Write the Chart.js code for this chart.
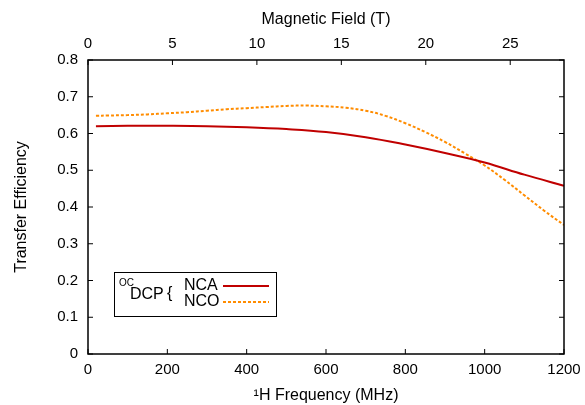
<!DOCTYPE html>
<html>
<head>
<meta charset="utf-8">
<script src="https://cdn.jsdelivr.net/npm/chart.js@4.4.0/dist/chart.umd.min.js"></script>
<style>
  body { margin: 0; background: #fff; }
  canvas { display: block; }
</style>
</head>
<body>
<canvas id="graph" width="585" height="405"></canvas>
<script>
// values
const freqNCA = [20, 100, 200, 300, 400, 500, 600, 700, 800, 900, 1000, 1100, 1200];
const effNCA = [0.620, 0.621, 0.621, 0.620, 0.617, 0.612, 0.604, 0.590, 0.570, 0.547, 0.521, 0.488, 0.458];

const freqNCO = [20, 50, 100, 150, 200, 250, 300, 350, 400, 450, 500, 550, 600, 650, 700, 750, 800, 850, 900, 950, 1000, 1050, 1100, 1150, 1200];
const effNCO = [0.648, 0.649, 0.650, 0.652, 0.655, 0.658, 0.662, 0.666, 0.669, 0.672, 0.675, 0.676, 0.674, 0.670, 0.662, 0.648, 0.628, 0.604, 0.577, 0.546, 0.513, 0.474, 0.432, 0.390, 0.351];

const seriesNames = ["NCA", "NCO"];
const seriesColors = ["#c00000", "#ff8c00"];

const MHZ_PER_TESLA = 42.577;
const freqMax = 1200;

Chart.defaults.font.family = "'Liberation Sans', Arial, sans-serif";
Chart.defaults.font.size = 15;
Chart.defaults.color = "#000";

const toPoints = (xs, ys) => xs.map((x, i) => ({ x: x, y: ys[i] }));

// gnuplot style frame with inward ticks
const framePlugin = {
  id: "frame",
  afterDatasetsDraw(chart) {
    const ctx = chart.ctx;
    const a = chart.chartArea;
    const tl = 5;
    ctx.save();
    ctx.strokeStyle = "#000";
    ctx.lineWidth = 1;
    ctx.beginPath();
    chart.scales.x.ticks.forEach(t => {
      const px = chart.scales.x.getPixelForValue(t.value);
      ctx.moveTo(px, a.bottom);
      ctx.lineTo(px, a.bottom - tl);
    });
    chart.scales.x2.ticks.forEach(t => {
      const px = chart.scales.x2.getPixelForValue(t.value);
      ctx.moveTo(px, a.top);
      ctx.lineTo(px, a.top + tl);
    });
    chart.scales.y.ticks.forEach(t => {
      const py = chart.scales.y.getPixelForValue(t.value);
      ctx.moveTo(a.left, py);
      ctx.lineTo(a.left + tl, py);
      ctx.moveTo(a.right, py);
      ctx.lineTo(a.right - tl, py);
    });
    ctx.stroke();
    ctx.lineWidth = 1.5;
    ctx.strokeRect(a.left, a.top, a.right - a.left, a.bottom - a.top);
    ctx.restore();
  }
};

// key box: OC-DCP { NCA / NCO
const keyPlugin = {
  id: "key",
  afterDraw(chart) {
    const ctx = chart.ctx;
    const fam = "'Liberation Sans', Arial, sans-serif";
    ctx.save();
    ctx.strokeStyle = "#000";
    ctx.lineWidth = 1;
    ctx.strokeRect(114.5, 272.5, 162, 44);
    ctx.fillStyle = "#000";
    ctx.textBaseline = "alphabetic";
    ctx.textAlign = "left";
    ctx.font = "10px " + fam;
    ctx.fillText("OC", 119, 286);
    ctx.font = "16px " + fam;
    ctx.fillText("DCP", 130, 298.5);
    ctx.fillText("{", 167, 298);
    ctx.fillText(seriesNames[0], 184, 290);
    ctx.fillText(seriesNames[1], 184, 306);
    ctx.lineWidth = 2;
    ctx.strokeStyle = seriesColors[0];
    ctx.beginPath();
    ctx.moveTo(223, 286);
    ctx.lineTo(269, 286);
    ctx.stroke();
    ctx.strokeStyle = seriesColors[1];
    ctx.setLineDash([3, 2]);
    ctx.beginPath();
    ctx.moveTo(223, 302);
    ctx.lineTo(269, 302);
    ctx.stroke();
    ctx.restore();
  }
};

const noSidePad = s => { s.paddingLeft = 0; s.paddingRight = 0; };

const graph = document.getElementById("graph").getContext("2d");
const effChart = new Chart(graph, {
  type: "line",
  data: {
    datasets: [
      {
        label: seriesNames[0],
        data: toPoints(freqNCA, effNCA),
        borderColor: seriesColors[0],
        borderWidth: 2,
        pointRadius: 0,
        tension: 0.4,
        xAxisID: "x",
        yAxisID: "y",
      },
      {
        label: seriesNames[1],
        data: toPoints(freqNCO, effNCO),
        borderColor: seriesColors[1],
        borderWidth: 2,
        borderDash: [3, 2],
        pointRadius: 0,
        tension: 0.4,
        xAxisID: "x",
        yAxisID: "y",
      },
    ],
  },
  options: {
    responsive: false,
    animation: false,
    layout: { padding: { left: 0, right: 21, top: 0, bottom: 0 } },
    plugins: {
      legend: { display: false },
      tooltip: { enabled: false },
    },
    scales: {
      x: {
        type: "linear",
        position: "bottom",
        min: 0,
        max: freqMax,
        grid: { display: false, drawTicks: false },
        border: { display: false },
        ticks: { stepSize: 200, padding: 7, maxRotation: 0, autoSkip: false, callback: v => String(v) },
        title: { display: true, text: "\u00b9H Frequency (MHz)", font: { size: 16 }, padding: { top: 0, bottom: 0 } },
        afterFit: s => { s.height = 51; noSidePad(s); },
      },
      x2: {
        type: "linear",
        position: "top",
        min: 0,
        max: freqMax / MHZ_PER_TESLA,
        grid: { display: false, drawTicks: false },
        border: { display: false },
        ticks: { stepSize: 5, padding: 7, includeBounds: false, maxRotation: 0, autoSkip: false, callback: v => String(v) },
        title: { display: true, text: "Magnetic Field (T)", font: { size: 16 }, padding: { top: 10, bottom: 0 } },
        afterFit: s => { s.height = 60; noSidePad(s); },
      },
      y: {
        type: "linear",
        position: "left",
        min: 0,
        max: 0.8,
        grid: { display: false, drawTicks: false },
        border: { display: false },
        ticks: { stepSize: 0.1, padding: 10, callback: v => (v === 0 ? "0" : v.toFixed(1)) },
        title: { display: true, text: "Transfer Efficiency", font: { size: 16 }, padding: { top: 12, bottom: 0 } },
        afterFit: s => { s.width = 88; },
      },
    },
  },
  plugins: [framePlugin, keyPlugin],
});
</script>
</body>
</html>
